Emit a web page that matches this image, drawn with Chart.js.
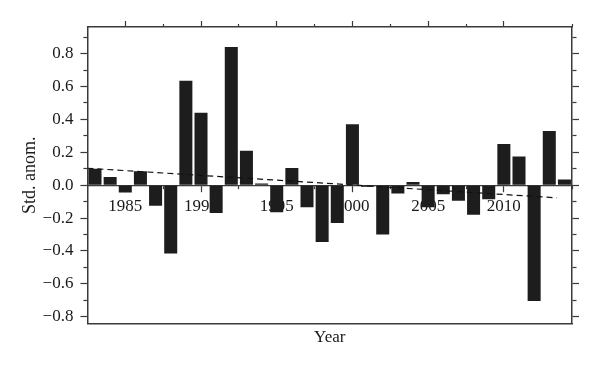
<!DOCTYPE html>
<html>
<head>
<meta charset="utf-8">
<script src="https://cdn.jsdelivr.net/npm/chart.js@4.4.1/dist/chart.umd.min.js"></script>
<style>
  html, body { margin: 0; padding: 0; background: #fff; }
  #wrap { width: 600px; height: 366px; }
</style>
</head>
<body>
<div id="wrap"><canvas id="chart1"></canvas></div>
<script>
// yearly standardized anomalies
const years = [1983, 1984, 1985, 1986, 1987, 1988, 1989, 1990, 1991, 1992, 1993,
  1994, 1995, 1996, 1997, 1998, 1999, 2000, 2001, 2002, 2003, 2004, 2005, 2006,
  2007, 2008, 2009, 2010, 2011, 2012, 2013, 2014];
const anomalies = [0.10, 0.05, -0.045, 0.085, -0.125, -0.415, 0.635, 0.44, -0.17,
  0.84, 0.21, 0.01, -0.165, 0.105, -0.135, -0.345, -0.23, 0.37, -0.01, -0.30,
  -0.05, 0.02, -0.135, -0.055, -0.095, -0.18, -0.085, 0.25, 0.175, -0.705, 0.33, 0.035];

// linear trend (dashed)
const trendYears = [1982.5, 2013.5];
const trendValues = [0.103, -0.077];

// range is not a whole number of steps, so ticks stay on multiples of 0.1
const yMin = -0.842, yMax = 0.962;
const xMin = 1982.5, xMax = 2014.5;

const serif = '"Liberation Serif", "DejaVu Serif", serif';
const ink = '#1a1a1a';
const frame = '#3a3a3a';

const isMajorYear = v => Math.abs(v % 5) < 1e-6;
const isMajorY = v => Math.round(v * 10) % 2 === 0;
const hideEdge = ctx => (ctx.tick && ctx.tick.value < 1983) ? 'rgba(0,0,0,0)' : frame;
const fmtY = v => {
  const r = Math.round(v * 10) / 10;
  return (r < 0 ? '\u2212' : '') + Math.abs(r).toFixed(1);
};

const ctx1 = document.getElementById('chart1').getContext('2d');

new Chart(ctx1, {
  data: {
    datasets: [{
      type: 'line',
      data: trendYears.map((x, i) => ({x: x, y: trendValues[i]})),
      borderColor: '#111',
      borderWidth: 1.2,
      borderDash: [6, 4],
      pointRadius: 0,
      fill: false
    }, {
      type: 'bar',
      data: years.map((x, i) => ({x: x, y: anomalies[i]})),
      backgroundColor: '#1d1d1d',
      borderWidth: 0,
      barPercentage: 0.86,
      categoryPercentage: 1
    }]
  },
  options: {
    responsive: true,
    maintainAspectRatio: false,
    animation: false,
    layout: { padding: { left: 14, right: 21, top: 21, bottom: 14 } },
    plugins: {
      legend: { display: false },
      tooltip: { enabled: false }
    },
    scales: {
      x: {
        type: 'linear',
        position: { y: 0 },
        min: xMin, max: xMax,
        offset: false,
        grid: {
          offset: false,
          drawOnChartArea: false,
          tickLength: 6,
          tickWidth: 1.2,
          tickColor: hideEdge,
          tickBorderDash: ctx => isMajorYear(ctx.tick.value) ? [] : [3, 3]
        },
        border: { color: frame, width: 1.2 },
        ticks: {
          stepSize: 2.5,
          autoSkip: false,
          maxRotation: 0,
          padding: 5,
          color: ink,
          font: { family: serif, size: 17 },
          callback: v => isMajorYear(v) ? String(v) : ''
        }
      },
      xTop: {
        type: 'linear',
        axis: 'x',
        position: 'top',
        min: xMin, max: xMax,
        offset: false,
        grid: {
          offset: false,
          drawOnChartArea: false,
          tickLength: 6,
          tickWidth: 1.2,
          tickColor: hideEdge,
          tickBorderDash: ctx => isMajorYear(ctx.tick.value) ? [] : [3, 3],
          tickBorderDashOffset: ctx => isMajorYear(ctx.tick.value) ? 0 : 3
        },
        border: { color: frame, width: 1.5 },
        ticks: { display: false, stepSize: 2.5, autoSkip: false }
      },
      xBottom: {
        type: 'linear',
        axis: 'x',
        position: 'bottom',
        min: xMin, max: xMax,
        offset: false,
        grid: { offset: false, drawOnChartArea: false, drawTicks: false },
        border: { color: frame, width: 1.5 },
        ticks: { display: false },
        title: {
          display: true,
          text: 'Year',
          color: ink,
          font: { family: serif, size: 17 },
          padding: { top: 4, bottom: 4 }
        }
      },
      y: {
        type: 'linear',
        position: 'left',
        min: yMin, max: yMax,
        grid: {
          drawOnChartArea: false,
          tickLength: 7,
          tickWidth: 1.2,
          tickColor: frame,
          tickBorderDash: ctx => isMajorY(ctx.tick.value) ? [] : [4, 3],
          tickBorderDashOffset: ctx => isMajorY(ctx.tick.value) ? 0 : 4
        },
        border: { color: frame, width: 1.5 },
        ticks: {
          stepSize: 0.1,
          includeBounds: false,
          autoSkip: false,
          padding: 7,
          color: ink,
          font: { family: serif, size: 17 },
          callback: v => isMajorY(v) ? fmtY(v) : ''
        },
        title: {
          display: true,
          text: 'Std. anom.',
          color: ink,
          font: { family: serif, size: 18 },
          padding: { top: 5, bottom: -5 }
        }
      },
      yRight: {
        type: 'linear',
        axis: 'y',
        position: 'right',
        min: yMin, max: yMax,
        grid: {
          drawOnChartArea: false,
          tickLength: 7,
          tickWidth: 1.2,
          tickColor: frame,
          tickBorderDash: ctx => isMajorY(ctx.tick.value) ? [] : [4, 3]
        },
        border: { color: frame, width: 1.5 },
        ticks: { display: false, stepSize: 0.1, includeBounds: false }
      }
    }
  }
});
</script>
</body>
</html>
